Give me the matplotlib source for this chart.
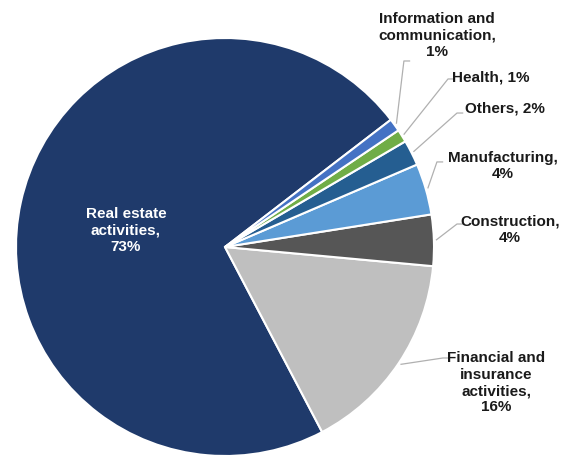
import matplotlib.pyplot as plt
import numpy as np

plt.rcParams["font.family"] = ["Liberation Sans", "DejaVu Sans"]

# sector shares (%), counter-clockwise from the real estate slice
sectors = [
    "Real estate\nactivities,",
    "Financial and\ninsurance\nactivities,",
    "Construction,",
    "Manufacturing,",
    "Others,",
    "Health,",
    "Information and\ncommunication,",
]
shares = [73, 16, 4, 4, 2, 1, 1]
colors = ["#1f3a6b", "#bfbfbf", "#565656", "#5b9bd5", "#255e91", "#70ad47", "#4472c4"]

# label placement: text centre, elbow of the leader line, one entry per slice
label_text_pos = [(-0.474, 0.08), (1.297, -0.650), (1.364, 0.084), (1.330, 0.388),
                  (1.340, 0.665), (1.273, 0.813), (1.014, 1.010)]
label_elbow = [None, (1.043, -0.531), (1.110, 0.110), (1.014, 0.407),
               (1.110, 0.641), (1.067, 0.804), (0.856, 0.890)]
inline_sep = [False, False, False, False, True, True, False]

W, H = 563, 458
cx, cy, r = 225, 247, 209

fig = plt.figure(figsize=(W / 100, H / 100), dpi=100)
ax = fig.add_axes([0, 0, 1, 1])

wedges, _ = ax.pie(
    shares,
    colors=colors,
    startangle=37.5,
    counterclock=True,
    radius=1,
    wedgeprops=dict(edgecolor="white", linewidth=1.5),
)

text_kw = dict(fontsize=11, fontweight="bold", ha="center", va="center",
               linespacing=1.22)

for i, (w, name, val) in enumerate(zip(wedges, sectors, shares)):
    sep = " " if inline_sep[i] else "\n"
    tx, ty = label_text_pos[i]
    if i == 0:
        ax.text(tx, ty, f"{name}{sep}{val}%", color="white", **text_kw)
        continue
    ax.text(tx, ty, f"{name}{sep}{val}%", color="#1a1a1a", **text_kw)

    # leader line from the slice edge to the label
    mid = np.deg2rad((w.theta1 + w.theta2) / 2)
    sx, sy = 1.01 * np.cos(mid), 1.01 * np.sin(mid)
    ex, ey = label_elbow[i]
    ax.plot([sx, ex, ex + 0.03], [sy, ey, ey], color="#b0b0b0", lw=0.9,
            solid_capstyle="butt")

ax.set_xlim(-cx / r, (W - cx) / r)
ax.set_ylim(-(H - cy) / r, cy / r)
ax.set_aspect("equal", adjustable="box")
ax.axis("off")

fig.savefig("out.png", dpi=100)
